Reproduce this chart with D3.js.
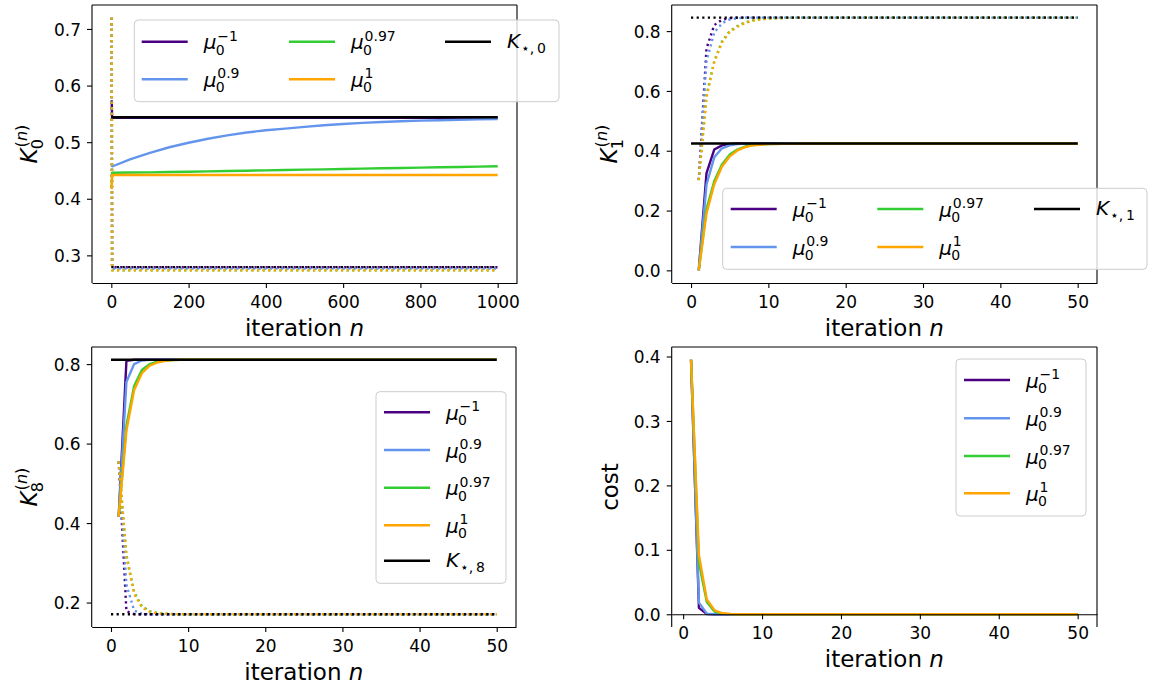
<!DOCTYPE html>
<html>
<head>
<meta charset="utf-8">
<script src="https://cdn.jsdelivr.net/npm/d3@7"></script>
<style>
  body { margin: 0; background: #ffffff; }
  svg text { font-family: "DejaVu Sans", sans-serif; fill: #000; }
</style>
</head>
<body>
<svg id="fig" width="1149" height="688"></svg>
<script>
// ---------------- data ----------------
// step-size schedules mu_0^p, shared by all four panels
const seriesSup = ["\u22121", "0.9", "0.97", "1"];
const seriesColors = ["#4b0082", "#6495ed", "#32cd32", "#ffa500"];

// K_0^(n): first (solid) and second (dotted) component, iterations 1..1000
const k0Iter = [1, 2, 50, 100, 150, 200, 250, 300, 350, 400, 450, 500, 550, 600, 650, 700, 750, 800, 850, 900, 950, 1000];
const k0SolidM1  = [0.574, 0.543, 0.543, 0.543, 0.543, 0.543, 0.543, 0.543, 0.543, 0.543, 0.543, 0.543, 0.543, 0.543, 0.543, 0.543, 0.543, 0.543, 0.543, 0.543, 0.543, 0.543];
const k0Solid09  = [0.456, 0.457, 0.470, 0.481, 0.491, 0.499, 0.506, 0.512, 0.517, 0.521, 0.524, 0.527, 0.530, 0.532, 0.534, 0.5355, 0.537, 0.538, 0.5388, 0.5396, 0.5403, 0.541];
const k0Solid097 = [0.420, 0.446, 0.4463, 0.4466, 0.4472, 0.4478, 0.4484, 0.449, 0.4496, 0.4502, 0.4508, 0.4514, 0.452, 0.4526, 0.4532, 0.4538, 0.4544, 0.455, 0.4556, 0.4562, 0.4568, 0.4574];
const k0Solid1   = [0.417, 0.442, 0.442, 0.442, 0.442, 0.442, 0.442, 0.442, 0.442, 0.442, 0.442, 0.442, 0.442, 0.442, 0.442, 0.442, 0.442, 0.442, 0.442, 0.442, 0.442, 0.442];
const k0DotM1  = [0.720, 0.279, 0.279, 0.279, 0.279, 0.279, 0.279, 0.279, 0.279, 0.279, 0.279, 0.279, 0.279, 0.279, 0.279, 0.279, 0.279, 0.279, 0.279, 0.279, 0.279, 0.279];
const k0Dot09  = [0.720, 0.2765, 0.2765, 0.2765, 0.2765, 0.2765, 0.2765, 0.2765, 0.2765, 0.2765, 0.2765, 0.2765, 0.2765, 0.2765, 0.2765, 0.2765, 0.2765, 0.2765, 0.2765, 0.2765, 0.2765, 0.2765];
const k0Dot097 = [0.720, 0.2735, 0.2735, 0.2735, 0.2735, 0.2735, 0.2735, 0.2735, 0.2735, 0.2735, 0.2735, 0.2735, 0.2735, 0.2735, 0.2735, 0.2735, 0.2735, 0.2735, 0.2735, 0.2735, 0.2735, 0.2735];
const k0Dot1   = [0.720, 0.2735, 0.2735, 0.2735, 0.2735, 0.2735, 0.2735, 0.2735, 0.2735, 0.2735, 0.2735, 0.2735, 0.2735, 0.2735, 0.2735, 0.2735, 0.2735, 0.2735, 0.2735, 0.2735, 0.2735, 0.2735];
const k0StarIter = [0, 1000];
const k0Star = [0.544, 0.544];
const k0StarDot = [0.2793, 0.2793];

// K_1^(n), iterations 1..50
const k1Iter = [1, 2, 3, 4, 5, 6, 7, 8, 9, 10, 12, 15, 50];
const k1SolidM1  = [0, 0.325, 0.404, 0.418, 0.423, 0.424, 0.424, 0.424, 0.424, 0.424, 0.424, 0.424, 0.424];
const k1Solid09  = [0, 0.287, 0.378, 0.408, 0.418, 0.422, 0.424, 0.424, 0.424, 0.424, 0.424, 0.424, 0.424];
const k1Solid097 = [0, 0.205, 0.298, 0.354, 0.387, 0.404, 0.414, 0.419, 0.421, 0.422, 0.423, 0.424, 0.424];
const k1Solid1   = [0, 0.190, 0.288, 0.347, 0.381, 0.401, 0.412, 0.418, 0.420, 0.422, 0.423, 0.424, 0.424];
const k1DotM1  = [0.302, 0.742, 0.820, 0.838, 0.843, 0.845, 0.845, 0.845, 0.845, 0.845, 0.845, 0.845, 0.845];
const k1Dot09  = [0.302, 0.700, 0.795, 0.826, 0.839, 0.843, 0.845, 0.845, 0.845, 0.845, 0.845, 0.845, 0.845];
const k1Dot097 = [0.302, 0.585, 0.700, 0.765, 0.800, 0.817, 0.829, 0.836, 0.840, 0.842, 0.844, 0.845, 0.845];
const k1Dot1   = [0.302, 0.578, 0.695, 0.762, 0.797, 0.815, 0.827, 0.835, 0.839, 0.842, 0.844, 0.845, 0.845];
const k1StarIter = [0, 50];
const k1Star = [0.424, 0.424];
const k1StarDot = [0.845, 0.845];

// K_8^(n), iterations 1..50
const k8Iter = [1, 2, 3, 4, 5, 6, 7, 8, 9, 10, 12, 15, 50];
const k8SolidM1  = [0.416, 0.808, 0.811, 0.811, 0.811, 0.811, 0.811, 0.811, 0.811, 0.811, 0.811, 0.811, 0.811];
const k8Solid09  = [0.416, 0.755, 0.800, 0.809, 0.811, 0.811, 0.811, 0.811, 0.811, 0.811, 0.811, 0.811, 0.811];
const k8Solid097 = [0.416, 0.645, 0.745, 0.785, 0.800, 0.806, 0.809, 0.810, 0.811, 0.811, 0.811, 0.811, 0.811];
const k8Solid1   = [0.416, 0.632, 0.735, 0.777, 0.796, 0.804, 0.808, 0.810, 0.811, 0.811, 0.811, 0.811, 0.811];
const k8DotM1  = [0.555, 0.178, 0.171, 0.1705, 0.1705, 0.1705, 0.1705, 0.1705, 0.1705, 0.1705, 0.1705, 0.1705, 0.1705];
const k8Dot09  = [0.555, 0.245, 0.180, 0.172, 0.1705, 0.1705, 0.1705, 0.1705, 0.1705, 0.1705, 0.1705, 0.1705, 0.1705];
const k8Dot097 = [0.555, 0.320, 0.226, 0.191, 0.178, 0.174, 0.172, 0.171, 0.1705, 0.1705, 0.1705, 0.1705, 0.1705];
const k8Dot1   = [0.555, 0.315, 0.222, 0.188, 0.177, 0.173, 0.172, 0.171, 0.1705, 0.1705, 0.1705, 0.1705, 0.1705];
const k8StarIter = [0, 50];
const k8Star = [0.811, 0.811];
const k8StarDot = [0.1705, 0.1705];

// cost, iterations 1..50
const costIter = [1, 2, 3, 4, 5, 6, 7, 8, 10, 50];
const costM1  = [0.395, 0.010, 0.0005, 0, 0, 0, 0, 0, 0, 0];
const cost09  = [0.395, 0.018, 0.001, 0.0001, 0, 0, 0, 0, 0, 0];
const cost097 = [0.395, 0.080, 0.019, 0.004, 0.001, 0.0003, 0.0001, 0, 0, 0];
const cost1   = [0.395, 0.092, 0.023, 0.006, 0.0015, 0.0004, 0.0001, 0, 0, 0];

// tick values
const k0XTicks = [0, 200, 400, 600, 800, 1000];
const k0YTicks = [0.3, 0.4, 0.5, 0.6, 0.7];
const iterTicks = [0, 10, 20, 30, 40, 50];
const k1YTicks = [0, 0.2, 0.4, 0.6, 0.8];
const k8YTicks = [0.2, 0.4, 0.6, 0.8];
const costYTicks = [0, 0.1, 0.2, 0.3, 0.4];

// ---------------- drawing ----------------
const svg = d3.select("#fig");
const FS_TICK = 17, FS_LABEL = 23, FS_LEG = 20;
const LW = 2.4;
const DOT = "2.2,3.4";

// math-style label: italic base with optional subscript / superscript
function mathText(g, x, y, fs, base, baseItalic, sub, sup) {
  const t = g.append("text").attr("x", x).attr("y", y)
    .attr("font-size", fs).attr("font-style", baseItalic ? "italic" : "normal").text(base);
  const w = t.node().getComputedTextLength();
  if (!sub && !sup) return w;
  const sx = x + w + fs * 0.04;
  const sfs = fs * 0.7;
  let extra = 0;
  if (sup) {
    const s = g.append("text").attr("x", sx).attr("y", y - fs * 0.42).attr("font-size", sfs);
    sup.forEach(([txt, it]) => s.append("tspan").attr("font-style", it ? "italic" : "normal").text(txt));
    extra = Math.max(extra, s.node().getComputedTextLength());
  }
  if (sub) {
    const s = g.append("text").attr("x", sx - (baseItalic && sup ? fs * 0.08 : 0))
      .attr("y", y + fs * (sup ? 0.27 : 0.24)).attr("font-size", sfs).text(sub);
    extra = Math.max(extra, s.node().getComputedTextLength());
  }
  return w + fs * 0.04 + extra;
}

function padded(ext) {
  const span = ext[1] - ext[0];
  return [ext[0] - 0.05 * span, ext[1] + 0.05 * span];
}

function drawPanel(p, idx) {
  const { l, r, t, b } = p.box;
  const allY = [].concat(...p.solid, ...p.dotted, p.star || [], p.starDot || []);
  const allX = p.iter.concat(p.starIter || []);
  const x = d3.scaleLinear().domain(padded(d3.extent(allX))).range([l, r]);
  const y = d3.scaleLinear().domain(padded(d3.extent(allY))).range([b, t]);

  const g = svg.append("g");
  const clipId = "clip" + idx;
  g.append("clipPath").attr("id", clipId)
    .append("rect").attr("x", l).attr("y", t).attr("width", r - l).attr("height", b - t);

  const plot = g.append("g").attr("clip-path", `url(#${clipId})`);
  const line = d3.line().x(d => x(d[0])).y(d => y(d[1]));
  const pts = (xs, ys) => xs.map((v, i) => [v, ys[i]]);

  p.solid.forEach((vals, i) => {
    plot.append("path").attr("d", line(pts(p.iter, vals)))
      .attr("fill", "none").attr("stroke", seriesColors[i]).attr("stroke-width", LW)
      .attr("stroke-linejoin", "round");
    if (p.dotted[i]) {
      plot.append("path").attr("d", line(pts(p.iter, p.dotted[i])))
        .attr("fill", "none").attr("stroke", seriesColors[i]).attr("stroke-width", LW)
        .attr("stroke-dasharray", DOT).attr("stroke-linejoin", "round");
    }
  });
  if (p.star) {
    plot.append("path").attr("d", line(pts(p.starIter, p.star)))
      .attr("fill", "none").attr("stroke", "#000").attr("stroke-width", LW);
    plot.append("path").attr("d", line(pts(p.starIter, p.starDot)))
      .attr("fill", "none").attr("stroke", "#000").attr("stroke-width", LW)
      .attr("stroke-dasharray", DOT);
  }

  // spines
  const xAxisY = p.zeroAxis ? y(0) : b;
  g.append("line").attr("x1", l).attr("x2", l).attr("y1", t).attr("y2", b).attr("stroke", "#000").attr("stroke-width", 1.1);
  g.append("line").attr("x1", r).attr("x2", r).attr("y1", t).attr("y2", b).attr("stroke", "#000").attr("stroke-width", 1.1);
  g.append("line").attr("x1", l).attr("x2", r).attr("y1", t).attr("y2", t).attr("stroke", "#000").attr("stroke-width", 1.1);

  const xa = g.append("g").attr("transform", `translate(0,${xAxisY})`)
    .call(d3.axisBottom(x).tickValues(p.xTicks).tickFormat(d3.format("d")).tickSize(5).tickSizeOuter(0).tickPadding(7));
  const ya = g.append("g").attr("transform", `translate(${l},0)`)
    .call(d3.axisLeft(y).tickValues(p.yTicks).tickFormat(d3.format(".1f")).tickSize(5).tickSizeOuter(0).tickPadding(6));
  [xa, ya].forEach(a => {
    a.selectAll("path.domain").attr("stroke", "#000").attr("stroke-width", 1.1);
    a.selectAll(".tick line").attr("stroke", "#000").attr("stroke-width", 1.1);
    a.selectAll(".tick text").attr("font-size", FS_TICK).attr("font-family", "DejaVu Sans").attr("fill", "#000");
  });
  ya.select("path.domain").remove();
  ya.selectAll(".tick text").attr("dy", "0.36em");
  xa.selectAll(".tick text").attr("dy", "0.74em");

  // x label
  const xl = g.append("text").attr("x", (l + r) / 2).attr("y", xAxisY + 53)
    .attr("text-anchor", "middle").attr("font-size", FS_LABEL);
  xl.append("tspan").text("iteration ");
  xl.append("tspan").attr("font-style", "italic").text("n");

  // y label (rotated)
  const yl = g.append("g").attr("transform", `translate(${l - p.ylabelOffset},${(t + b) / 2}) rotate(-90)`);
  const inner = yl.append("g");
  let w;
  if (p.ylabel.plain) {
    w = mathText(inner, 0, 0, FS_LABEL, p.ylabel.plain, false);
  } else {
    w = mathText(inner, 0, 0, FS_LABEL, "K", true, p.ylabel.sub, [["(", false], ["n", true], [")", false]]);
  }
  inner.attr("transform", `translate(${-w / 2},0)`);

  // legend
  const L = p.legend;
  const lg = svg.append("g");
  lg.append("rect").attr("x", L.x).attr("y", L.y).attr("width", L.w).attr("height", L.h)
    .attr("rx", 4).attr("fill", "#fff").attr("fill-opacity", 0.8)
    .attr("stroke", "#cccccc").attr("stroke-width", 1);
  const entries = seriesSup.map((s, i) => ({ color: seriesColors[i], kind: "mu", sup: s }));
  if (p.starLabel) entries.push({ color: "#000", kind: "K", sub: p.starLabel });
  entries.forEach((e, k) => {
    const col = Math.floor(k / L.rows.length), row = k % L.rows.length;
    const hx = L.cols[col], cy = L.rows[row];
    lg.append("line").attr("x1", hx).attr("x2", hx + 46).attr("y1", cy).attr("y2", cy)
      .attr("stroke", e.color).attr("stroke-width", LW);
    if (e.kind === "mu") {
      mathText(lg, hx + 62, cy + 7.5, FS_LEG, "\u03bc", true, "0", [[e.sup, false]]);
    } else {
      mathText(lg, hx + 62, cy + 6, FS_LEG, "K", true, "\u22c6,\u2009" + e.sub, null);
    }
  });
}

const panelDefs = [
  {
    box: { l: 92, r: 517, t: 5, b: 283 },
    iter: k0Iter,
    solid: [k0SolidM1, k0Solid09, k0Solid097, k0Solid1],
    dotted: [k0DotM1, k0Dot09, k0Dot097, k0Dot1],
    starIter: k0StarIter, star: k0Star, starDot: k0StarDot,
    xTicks: k0XTicks, yTicks: k0YTicks,
    ylabel: { sub: "0" }, ylabelOffset: 55, starLabel: "0",
    legend: { x: 134.3, y: 20, w: 424.7, h: 81.7, cols: [141.7, 289, 445], rows: [41.7, 79.3] }
  },
  {
    box: { l: 671.7, r: 1097, t: 5, b: 283 },
    iter: k1Iter,
    solid: [k1SolidM1, k1Solid09, k1Solid097, k1Solid1],
    dotted: [k1DotM1, k1Dot09, k1Dot097, k1Dot1],
    starIter: k1StarIter, star: k1Star, starDot: k1StarDot,
    xTicks: iterTicks, yTicks: k1YTicks,
    ylabel: { sub: "1" }, ylabelOffset: 55, starLabel: "1",
    legend: { x: 722.7, y: 188.3, w: 424.3, h: 81, cols: [730.7, 877.3, 1034], rows: [209, 247] }
  },
  {
    box: { l: 91.7, r: 516, t: 347, b: 627 },
    iter: k8Iter,
    solid: [k8SolidM1, k8Solid09, k8Solid097, k8Solid1],
    dotted: [k8DotM1, k8Dot09, k8Dot097, k8Dot1],
    starIter: k8StarIter, star: k8Star, starDot: k8StarDot,
    xTicks: iterTicks, yTicks: k8YTicks,
    ylabel: { sub: "8" }, ylabelOffset: 55, starLabel: "8",
    legend: { x: 376, y: 391.7, w: 130, h: 191.6, cols: [384], rows: [412.3, 450, 487.7, 525.3, 560.7] }
  },
  {
    box: { l: 671.7, r: 1097, t: 347, b: 627 },
    iter: costIter,
    solid: [costM1, cost09, cost097, cost1],
    dotted: [],
    xTicks: iterTicks, yTicks: costYTicks,
    ylabel: { plain: "cost" }, ylabelOffset: 53.5, zeroAxis: true,
    legend: { x: 956, y: 359, w: 130, h: 157, cols: [964], rows: [380, 418.3, 456, 493.3] }
  }
];

panelDefs.forEach(drawPanel);
</script>
</body>
</html>
